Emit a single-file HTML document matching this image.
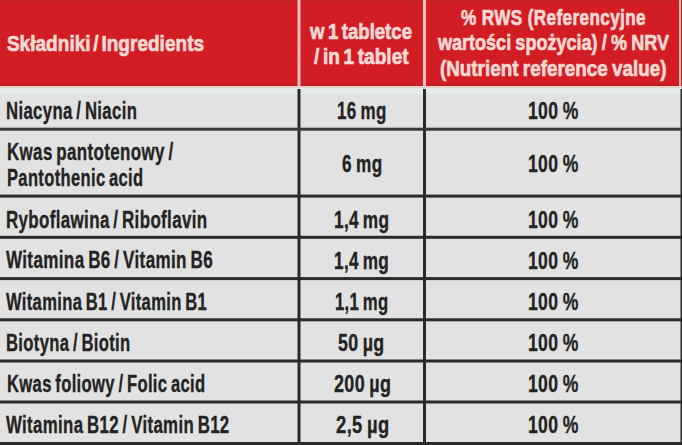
<!DOCTYPE html>
<html><head><meta charset="utf-8"><style>
html,body{margin:0;padding:0;background:#e2e2e2;}
body{width:682px;height:445px;overflow:hidden;}
svg{display:block;}
text{font-family:"Liberation Sans",sans-serif;font-weight:bold;font-size:24px;word-spacing:-2.0px;}
text.h{font-size:22.5px;fill:#f7d9d4;stroke:#f7d9d4;stroke-width:0.7px;}
text.b{fill:#232323;stroke:#232323;stroke-width:0.35px;}
</style></head><body>
<svg width="682" height="445" viewBox="0 0 682 445">
<rect x="0" y="0" width="682" height="445" fill="#e2e2e2"/>
<rect x="0" y="0" width="682" height="86" fill="#d21d24"/>
<rect x="0" y="0" width="682" height="2" fill="#c92329"/>
<rect x="0" y="84" width="682" height="2" fill="#bf1f25"/>
<rect x="0" y="86" width="682" height="2" fill="#efcfcc"/>
<rect x="0" y="88" width="682" height="6" fill="#e3eaea"/>
<rect x="297.5" y="0" width="3" height="86" fill="#f3c3bd"/>
<rect x="423" y="0" width="3" height="86" fill="#f3c3bd"/>
<rect x="679" y="0" width="2" height="86" fill="#f0b8b2"/>
<rect x="681" y="0" width="1" height="86" fill="#a01a1e"/>
<rect x="297.5" y="89" width="3" height="356" fill="#2a2a2a"/>
<rect x="423" y="89" width="3" height="356" fill="#2a2a2a"/>
<rect x="680.5" y="89" width="1.5" height="356" fill="#2a2a2a"/>
<rect x="0" y="127.7" width="682" height="3" fill="#3a3a3a"/>
<rect x="0" y="194.6" width="682" height="3" fill="#2a2a2a"/>
<rect x="0" y="235.8" width="682" height="3" fill="#2a2a2a"/>
<rect x="0" y="277.1" width="682" height="3" fill="#2a2a2a"/>
<rect x="0" y="318.3" width="682" height="3" fill="#2a2a2a"/>
<rect x="0" y="359.5" width="682" height="3" fill="#2a2a2a"/>
<rect x="0" y="400.5" width="682" height="3" fill="#2a2a2a"/>
<rect x="0" y="442" width="682" height="3" fill="#2a2a2a"/>
<text class="h" style="word-spacing:-3px;letter-spacing:0.0px" transform="translate(6.91 51.00) scale(0.8475 1)">Składniki / Ingredients</text>
<text class="h" transform="translate(309.98 38.50) scale(0.8258 1)">w 1 tabletce</text>
<text class="h" transform="translate(314.04 64.20) scale(0.8483 1)">/ in 1 tablet</text>
<text class="h" style="word-spacing:0px;letter-spacing:0.5px" transform="translate(460.94 24.90) scale(0.7618 1)">% RWS (Referencyjne</text>
<text class="h" style="word-spacing:-1px;letter-spacing:0.0px" transform="translate(438.01 50.40) scale(0.8020 1)">wartości spożycia) / % NRV</text>
<text class="h" style="word-spacing:-1px;letter-spacing:0.0px" transform="translate(439.92 76.00) scale(0.8377 1)">(Nutrient reference value)</text>
<text class="b" style="word-spacing:-2.0px;letter-spacing:0.5px" transform="translate(6.00 118.80) scale(0.6983 1)">Niacyna / Niacin</text>
<text class="b" style="word-spacing:-2.0px;letter-spacing:0.5px" transform="translate(6.97 160.10) scale(0.7074 1)">Kwas pantotenowy /</text>
<text class="b" style="word-spacing:-2.0px;letter-spacing:0.5px" transform="translate(6.98 185.80) scale(0.6894 1)">Pantothenic acid</text>
<text class="b" style="word-spacing:-2.0px;letter-spacing:0.5px" transform="translate(5.95 227.50) scale(0.7067 1)">Ryboflawina / Riboflavin</text>
<text class="b" style="word-spacing:-2.0px;letter-spacing:0.5px" transform="translate(5.96 268.40) scale(0.7111 1)">Witamina B6 / Vitamin B6</text>
<text class="b" style="word-spacing:-2.0px;letter-spacing:0.5px" transform="translate(5.96 309.90) scale(0.6906 1)">Witamina B1 / Vitamin B1</text>
<text class="b" style="word-spacing:-2.0px;letter-spacing:0.5px" transform="translate(6.01 350.70) scale(0.6926 1)">Biotyna / Biotin</text>
<text class="b" style="word-spacing:-2.0px;letter-spacing:0.5px" transform="translate(6.99 392.00) scale(0.6914 1)">Kwas foliowy / Folic acid</text>
<text class="b" style="word-spacing:-2.0px;letter-spacing:0.5px" transform="translate(5.97 433.20) scale(0.7009 1)">Witamina B12 / Vitamin B12</text>
<text class="b" style="word-spacing:-1.5px;letter-spacing:0.5px" transform="translate(336.96 118.90) scale(0.7079 1)">16 mg</text>
<text class="b" style="word-spacing:-1.5px;letter-spacing:0.5px" transform="translate(342.03 172.20) scale(0.7166 1)">6 mg</text>
<text class="b" style="word-spacing:-2px;letter-spacing:0.5px" transform="translate(333.94 227.60) scale(0.7197 1)">1,4 mg</text>
<text class="b" style="word-spacing:-2px;letter-spacing:0.5px" transform="translate(333.98 268.50) scale(0.7161 1)">1,4 mg</text>
<text class="b" style="word-spacing:-2px;letter-spacing:0.5px" transform="translate(334.91 309.90) scale(0.6965 1)">1,1 mg</text>
<text class="b" style="word-spacing:-1.5px;letter-spacing:0.5px" transform="translate(337.94 350.70) scale(0.7425 1)">50 µg</text>
<text class="b" style="word-spacing:-1.5px;letter-spacing:0.5px" transform="translate(334.01 392.00) scale(0.7479 1)">200 µg</text>
<text class="b" style="word-spacing:-1.5px;letter-spacing:0.5px" transform="translate(336.04 433.20) scale(0.7645 1)">2,5 µg</text>
<text class="b" style="word-spacing:-1.2px;letter-spacing:0.5px" transform="translate(527.92 118.90) scale(0.7320 1)">100 %</text>
<text class="b" style="word-spacing:-1.2px;letter-spacing:0.5px" transform="translate(527.92 172.20) scale(0.7320 1)">100 %</text>
<text class="b" style="word-spacing:-1.2px;letter-spacing:0.5px" transform="translate(527.92 227.60) scale(0.7320 1)">100 %</text>
<text class="b" style="word-spacing:-1.2px;letter-spacing:0.5px" transform="translate(527.92 268.50) scale(0.7320 1)">100 %</text>
<text class="b" style="word-spacing:-1.2px;letter-spacing:0.5px" transform="translate(527.92 309.90) scale(0.7320 1)">100 %</text>
<text class="b" style="word-spacing:-1.2px;letter-spacing:0.5px" transform="translate(527.92 350.70) scale(0.7320 1)">100 %</text>
<text class="b" style="word-spacing:-1.2px;letter-spacing:0.5px" transform="translate(527.92 392.00) scale(0.7320 1)">100 %</text>
<text class="b" style="word-spacing:-1.2px;letter-spacing:0.5px" transform="translate(527.92 433.20) scale(0.7320 1)">100 %</text>
</svg>
</body></html>
